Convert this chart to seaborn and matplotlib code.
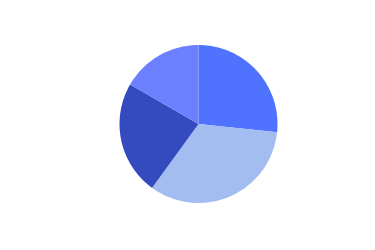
import matplotlib
matplotlib.use("Agg")
import matplotlib.pyplot as plt
import seaborn as sns

categories = ["A", "B", "C", "D"]
values = [80, 100, 70, 50]
colors = ["#5073ff", "#a3bdf0", "#334bbf", "#6b7fff"]

sns.set_theme(style="white")
fig = plt.figure(figsize=(3.75, 2.5), dpi=100)
fig.patch.set_facecolor("white")
ax = fig.add_axes([119.5 / 375, 47 / 250, 158 / 375, 158 / 250])
ax.pie(values, colors=colors, startangle=90, counterclock=False,
       radius=1.0, wedgeprops=dict(linewidth=0))
ax.set_xlim(-1, 1)
ax.set_ylim(-1, 1)
ax.set_aspect("equal")
ax.axis("off")
fig.savefig("out.png", dpi=100, facecolor="white")
